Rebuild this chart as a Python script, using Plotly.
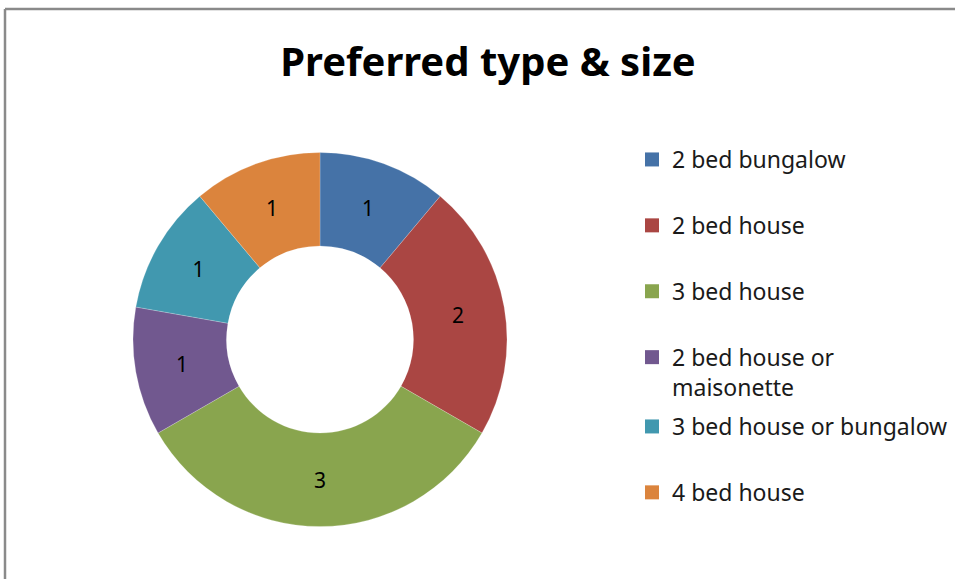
import plotly.graph_objects as go

# data
labels = ["2 bed bungalow", "2 bed house", "3 bed house",
          "2 bed house or maisonette", "3 bed house or bungalow", "4 bed house"]
legend_text = ["2 bed bungalow", "2 bed house", "3 bed house",
               "2 bed house or<br>maisonette", "3 bed house or bungalow", "4 bed house"]
counts = [1, 2, 3, 1, 1, 1]
colors = ["#4572A7", "#AA4643", "#89A54E", "#71588F", "#4198AF", "#DB843D"]

W, H = 955, 579
FONT = "Noto Sans, Open Sans, sans-serif"

fig = go.Figure()

fig.add_trace(go.Pie(
    labels=labels, values=counts, sort=False, direction="clockwise", rotation=0,
    hole=0.5, marker=dict(colors=colors, line=dict(color="rgba(255,255,255,0.4)", width=0.5)),
    text=[str(c) for c in counts], textinfo="text", textposition="inside",
    insidetextorientation="horizontal",
    textfont=dict(size=21, color="#000000", family=FONT),
    domain=dict(x=[133 / W, 507 / W], y=[(H - 527) / H, (H - 152) / H]),
    showlegend=False,
))

# legend entries (split in two legends so spacing stays even around the 2-line label)
for i, (name, col) in enumerate(zip(legend_text, colors)):
    fig.add_trace(go.Scatter(
        x=[None], y=[None], mode="markers", name=name,
        marker=dict(symbol="square", size=14, color=col),
        legendgroup=f"g{i}", legend="legend" if i < 4 else "legend2",
    ))

leg_common = dict(
    font=dict(size=23, color="#1a1a1a", family=FONT),
    bgcolor="rgba(0,0,0,0)", borderwidth=0, itemwidth=30,
    tracegroupgap=33, xanchor="left", yanchor="top", valign="top",
)

fig.update_layout(
    width=W, height=H,
    margin=dict(l=0, r=0, t=0, b=0),
    paper_bgcolor="white", plot_bgcolor="white",
    title=dict(text="<b>Preferred type & size</b>", x=488 / W, xanchor="center",
               y=1 - 62 / H, yanchor="middle",
               font=dict(size=40, color="#000000", family=FONT)),
    xaxis=dict(visible=False), yaxis=dict(visible=False),
    legend=dict(x=632 / W, y=1 - 138 / H, **leg_common),
    legend2=dict(x=632 / W, y=1 - 405 / H, **leg_common),
    shapes=[
        dict(type="line", xref="paper", yref="paper", x0=5 / W, x1=1.05, y0=1 - 9 / H, y1=1 - 9 / H,
             line=dict(color="#8a8a8a", width=2.5)),
        dict(type="line", xref="paper", yref="paper", x0=5 / W, x1=5 / W, y0=-0.05, y1=1 - 9 / H,
             line=dict(color="#8a8a8a", width=2.5)),
    ],
)

fig.write_html("out.html", config={"displayModeBar": False},
               post_script="document.body.style.margin='0';document.body.style.overflow='hidden';")
